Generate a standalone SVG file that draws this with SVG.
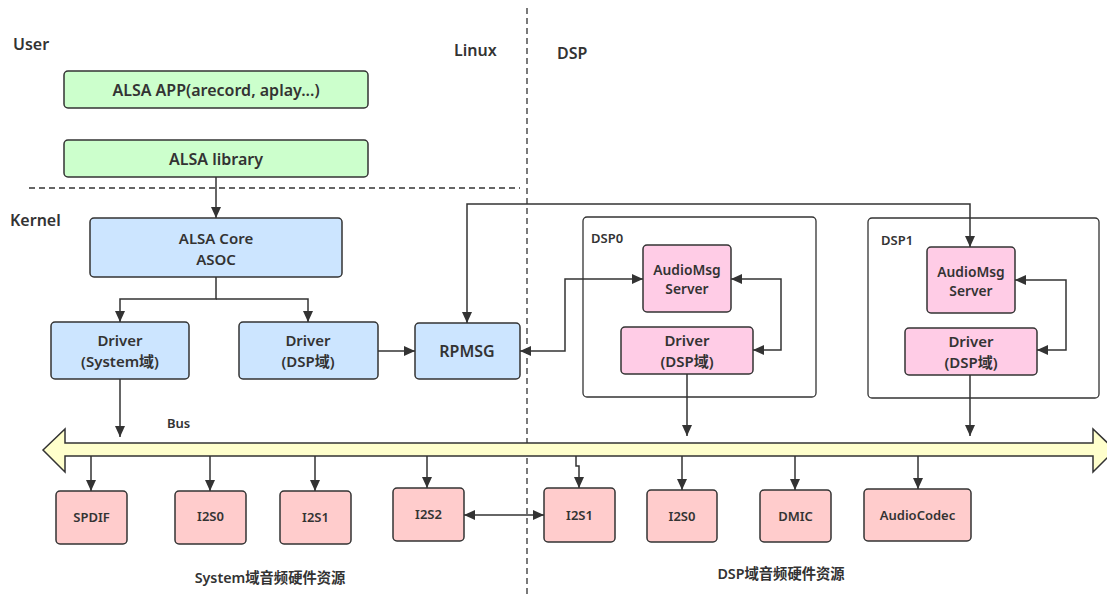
<svg xmlns="http://www.w3.org/2000/svg" width="1107" height="595" viewBox="0 0 1107 595">
<style>
text{font-family:"Noto Sans","Noto Sans CJK SC",sans-serif;font-weight:600;fill:#333;dominant-baseline:central}
.c{text-anchor:middle;font-size:16px}
.m{text-anchor:middle;font-size:15px}
.p{text-anchor:middle;font-size:13.8px}
.h{font-size:16px}
.s{font-size:13px}
.hw{text-anchor:middle;font-size:13px}
.cap{text-anchor:middle;font-size:14.3px}
.box{stroke:#333;stroke-width:1.5}
.green{fill:#CCFFCC}
.blue{fill:#CCE5FF}
.pink{fill:#FFCCE6}
.red{fill:#FFCCCC}
.cont{fill:#fff;stroke:#333;stroke-width:1.3}
.dash{stroke:#333;stroke-width:1.3;stroke-dasharray:6 4;fill:none}
.ln{fill:none;stroke:#333;stroke-width:1.5}
</style>
<defs>
<marker id="a" markerUnits="userSpaceOnUse" markerWidth="12" markerHeight="10" refX="11" refY="5" orient="auto-start-reverse"><path d="M0,0 L11,5 L0,10 z" fill="#333"/></marker>
</defs>
<rect width="1107" height="595" fill="#fff"/>
<line class="dash" x1="527" y1="8" x2="527" y2="595"/>
<line class="dash" x1="29" y1="188" x2="520" y2="188"/>
<text class="h" x="13" y="44">User</text>
<text class="h" x="454" y="50">Linux</text>
<text class="h" x="557" y="53">DSP</text>
<text class="h" x="10" y="220">Kernel</text>
<g id="dsp0"><rect class="cont" x="583" y="217" width="233" height="180" rx="4"/><text class="s" x="591" y="238">DSP0</text></g>
<g id="dsp1"><rect class="cont" x="868" y="218" width="231" height="180" rx="4"/><text class="s" x="881" y="240">DSP1</text></g>
<g id="bus"><path class="box" fill="#FFFFCC" d="M43,450 L65,429 L65,443 L1093,443 L1093,429 L1115,450 L1093,472 L1093,456 L65,456 L65,472 Z"/><text class="s" x="167" y="423">Bus</text></g>
<g id="connectors">
<path class="ln" marker-end="url(#a)" d="M216,177 V218"/>
<path class="ln" marker-end="url(#a)" d="M216,277 V299 H120 V322"/>
<path class="ln" marker-end="url(#a)" d="M216,299 H308 V322"/>
<path class="ln" marker-end="url(#a)" d="M378,351 H415"/>
<path class="ln" marker-start="url(#a)" marker-end="url(#a)" d="M467,323 V204 H970 V247"/>
<path class="ln" marker-start="url(#a)" marker-end="url(#a)" d="M520,351 H565 V279 H643"/>
<path class="ln" marker-start="url(#a)" marker-end="url(#a)" d="M731,279 H781 V350 H753"/>
<path class="ln" marker-start="url(#a)" marker-end="url(#a)" d="M1015,280 H1066 V350 H1037"/>
<path class="ln" marker-end="url(#a)" d="M120,379 V437"/>
<path class="ln" marker-end="url(#a)" d="M687,374 V436"/>
<path class="ln" marker-end="url(#a)" d="M970,375 V436"/>
<path class="ln" marker-end="url(#a)" d="M91,456 V491"/>
<path class="ln" marker-end="url(#a)" d="M210,456 V491"/>
<path class="ln" marker-end="url(#a)" d="M315,456 V491"/>
<path class="ln" marker-end="url(#a)" d="M427,456 V488"/>
<path class="ln" marker-end="url(#a)" d="M576,456 V466 H579 V488"/>
<path class="ln" marker-end="url(#a)" d="M682,456 V490"/>
<path class="ln" marker-end="url(#a)" d="M795,456 V490"/>
<path class="ln" marker-end="url(#a)" d="M918,456 V489"/>
<path class="ln" marker-start="url(#a)" marker-end="url(#a)" d="M464,515 H544"/>
</g>
<g id="alsa-app"><rect class="box green" x="64" y="71" width="304" height="37" rx="4"/><text class="c" x="216" y="90">ALSA APP(arecord, aplay...)</text></g>
<g id="alsa-lib"><rect class="box green" x="64" y="140" width="304" height="37" rx="4"/><text class="c" x="216" y="159">ALSA library</text></g>
<g id="alsa-core"><rect class="box blue" x="90" y="218" width="252" height="59" rx="4"/><text class="m" x="216" y="237.5">ALSA Core</text><text class="m" x="216" y="258.5">ASOC</text></g>
<g id="drv-sys"><rect class="box blue" x="51" y="322" width="138" height="57" rx="4"/><text class="m" x="120" y="340">Driver</text><text class="m" x="120" y="361">(System域)</text></g>
<g id="drv-dsp"><rect class="box blue" x="239" y="322" width="139" height="57" rx="4"/><text class="m" x="308" y="340">Driver</text><text class="m" x="308" y="361">(DSP域)</text></g>
<g id="rpmsg"><rect class="box blue" x="415" y="323" width="105" height="56" rx="4"/><text class="c" x="467" y="351">RPMSG</text></g>
<g id="ams0"><rect class="box pink" x="643" y="245" width="88" height="67" rx="4"/><text class="p" x="687" y="269">AudioMsg</text><text class="p" x="687" y="288">Server</text></g>
<g id="drv0"><rect class="box pink" x="621" y="327" width="132" height="47" rx="4"/><text class="m" x="687" y="340">Driver</text><text class="m" x="687" y="361">(DSP域)</text></g>
<g id="ams1"><rect class="box pink" x="927" y="247" width="88" height="66" rx="4"/><text class="p" x="971" y="271">AudioMsg</text><text class="p" x="971" y="290">Server</text></g>
<g id="drv1"><rect class="box pink" x="905" y="328" width="132" height="47" rx="4"/><text class="m" x="971" y="341">Driver</text><text class="m" x="971" y="362">(DSP域)</text></g>
<g id="spdif"><rect class="box red" x="56" y="491" width="71" height="53" rx="4"/><text class="hw" x="91.5" y="517">SPDIF</text></g>
<g id="i2s0-sys"><rect class="box red" x="175" y="491" width="71" height="53" rx="4"/><text class="hw" x="210.5" y="516">I2S0</text></g>
<g id="i2s1-sys"><rect class="box red" x="280" y="491" width="71" height="53" rx="4"/><text class="hw" x="315.5" y="517">I2S1</text></g>
<g id="i2s2-sys"><rect class="box red" x="393" y="488" width="71" height="53" rx="4"/><text class="hw" x="428.5" y="514">I2S2</text></g>
<g id="i2s1-dsp"><rect class="box red" x="544" y="488" width="71" height="54" rx="4"/><text class="hw" x="579.5" y="515">I2S1</text></g>
<g id="i2s0-dsp"><rect class="box red" x="647" y="490" width="70" height="52" rx="4"/><text class="hw" x="682" y="516">I2S0</text></g>
<g id="dmic"><rect class="box red" x="760" y="490" width="71" height="52" rx="4"/><text class="hw" x="795.5" y="516">DMIC</text></g>
<g id="codec"><rect class="box red" x="864" y="489" width="107" height="52" rx="4"/><text class="hw" x="917.5" y="515">AudioCodec</text></g>
<text class="cap" x="270" y="577">System域音频硬件资源</text>
<text class="cap" x="781" y="573">DSP域音频硬件资源</text>
</svg>
